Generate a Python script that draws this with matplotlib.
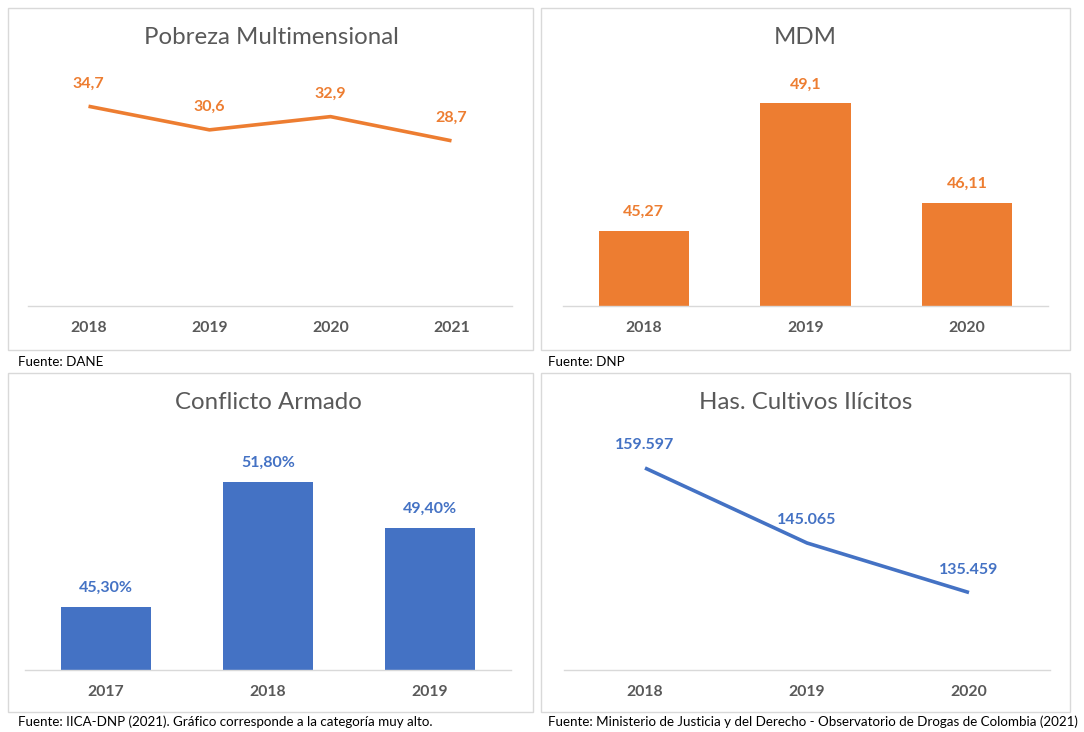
import matplotlib
matplotlib.use("Agg")
import matplotlib.pyplot as plt
from matplotlib.patches import Rectangle

plt.rcParams['font.family'] = ['Lato', 'DejaVu Sans']

# ---- data ----
pobreza_years = ["2018", "2019", "2020", "2021"]
pobreza_values = [34.7, 30.6, 32.9, 28.7]

mdm_years = ["2018", "2019", "2020"]
mdm_values = [45.27, 49.1, 46.11]

conflicto_years = ["2017", "2018", "2019"]
conflicto_values = [45.30, 51.80, 49.40]

cultivos_years = ["2018", "2019", "2020"]
cultivos_values = [159597, 145065, 135459]

titles = ["Pobreza Multimensional", "MDM", "Conflicto Armado", "Has. Cultivos Ilícitos"]
sources = ["Fuente: DANE", "Fuente: DNP",
           "Fuente: IICA-DNP (2021). Gráfico corresponde a la categoría muy alto.",
           "Fuente: Ministerio de Justicia y del Derecho - Observatorio de Drogas de Colombia (2021)"]

ORANGE = "#ED7D31"
BLUE = "#4472C4"
GRAY = "#595959"
BORDER = "#D9D9D9"

W, H = 1084, 732
fig = plt.figure(figsize=(W / 100, H / 100), dpi=100)
fig.patch.set_facecolor("white")


def fx(x):
    return x / W


def fy(y):
    return 1 - y / H


def add_axes(x0, x1, y0, y1):
    ax = fig.add_axes([fx(x0), fy(y1), (x1 - x0) / W, (y1 - y0) / H])
    ax.set_facecolor("none")
    for s in ["top", "left", "right"]:
        ax.spines[s].set_visible(False)
    ax.spines["bottom"].set_color(BORDER)
    ax.spines["bottom"].set_linewidth(1.0)
    ax.set_yticks([])
    ax.tick_params(axis="x", length=0, pad=11)
    return ax


def panel_frame(x0, y0, x1, y1):
    fig.patches.append(Rectangle((fx(x0), fy(y1)), (x1 - x0) / W, (y1 - y0) / H,
                                 transform=fig.transFigure, fill=False,
                                 edgecolor=BORDER, linewidth=1.0))


def style_ticks(ax, labels):
    ax.set_xticks(range(len(labels)))
    ax.set_xticklabels(labels, fontweight="bold", fontsize=11.3, color=GRAY)


LABEL_FS = 11.5

# frames
panel_frame(8, 8, 533, 350)
panel_frame(541, 8, 1070, 350)
panel_frame(8, 373, 533, 712)
panel_frame(541, 373, 1070, 712)

# ---- Panel 1: Pobreza (line) ----
ax1 = add_axes(28, 512, 70, 306)
xs = range(len(pobreza_values))
ax1.plot(xs, pobreza_values, color=ORANGE, linewidth=2.6, solid_capstyle="butt")
ax1.set_xlim(-0.5, len(pobreza_values) - 0.5)
ax1.set_ylim(0, 41)
style_ticks(ax1, pobreza_years)
for i, v in enumerate(pobreza_values):
    ax1.annotate(str(v).replace(".", ","), (i, v), xytext=(0, 16.5), textcoords="offset points",
                 ha="center", va="center", fontsize=LABEL_FS, fontweight="bold", color=ORANGE)

# ---- Panel 2: MDM (bars) ----
ax2 = add_axes(563, 1048, 73.6, 306)
xs = range(len(mdm_values))
ax2.bar(xs, mdm_values, width=0.56, color=ORANGE)
ax2.set_xlim(-0.5, len(mdm_values) - 0.5)
ax2.set_ylim(43, 50)
style_ticks(ax2, mdm_years)
for i, v in enumerate(mdm_values):
    ax2.annotate(str(v).replace(".", ","), (i, v), xytext=(0, 13.5), textcoords="offset points",
                 ha="center", va="center", fontsize=LABEL_FS, fontweight="bold", color=ORANGE)

# ---- Panel 3: Conflicto Armado (bars) ----
ax3 = add_axes(25, 511, 430, 670)
xs = range(len(conflicto_values))
ax3.bar(xs, conflicto_values, width=0.56, color=BLUE)
ax3.set_xlim(-0.5, len(conflicto_values) - 0.5)
ax3.set_ylim(42, 42 + 240 / 19.2)
style_ticks(ax3, conflicto_years)
for i, v in enumerate(conflicto_values):
    ax3.annotate(f"{v:.2f}%".replace(".", ","), (i, v), xytext=(0, 13.5), textcoords="offset points",
                 ha="center", va="center", fontsize=LABEL_FS, fontweight="bold", color=BLUE)

# ---- Panel 4: Cultivos (line) ----
ax4 = add_axes(564, 1050, 430, 670)
xs = range(len(cultivos_values))
ax4.plot(xs, cultivos_values, color=BLUE, linewidth=2.6, solid_capstyle="butt")
ax4.set_xlim(-0.5, len(cultivos_values) - 0.5)
ax4.set_ylim(120450, 120450 + 240 / 0.00516)
style_ticks(ax4, cultivos_years)
for i, v in enumerate(cultivos_values):
    ax4.annotate(f"{v:,}".replace(",", "."), (i, v), xytext=(0, 16.5), textcoords="offset points",
                 ha="center", va="center", fontsize=LABEL_FS, fontweight="bold", color=BLUE)

# titles
fig.text(fx(271), fy(38), titles[0], ha="center", va="center", fontsize=17.3, color=GRAY)
fig.text(fx(805), fy(38), titles[1], ha="center", va="center", fontsize=17.3, color=GRAY)
fig.text(fx(268), fy(402), titles[2], ha="center", va="center", fontsize=17.3, color=GRAY)
fig.text(fx(806), fy(402), titles[3], ha="center", va="center", fontsize=17.3, color=GRAY)

# sources
SRC_FS = 9.6
fig.text(fx(18), fy(362), sources[0], ha="left", va="center", fontsize=SRC_FS, color="black")
fig.text(fx(548), fy(362), sources[1], ha="left", va="center", fontsize=SRC_FS, color="black")
fig.text(fx(18), fy(722), sources[2], ha="left", va="center", fontsize=SRC_FS, color="black")
fig.text(fx(548), fy(722), sources[3], ha="left", va="center", fontsize=SRC_FS, color="black")

fig.savefig("out.png", dpi=100, facecolor="white")
